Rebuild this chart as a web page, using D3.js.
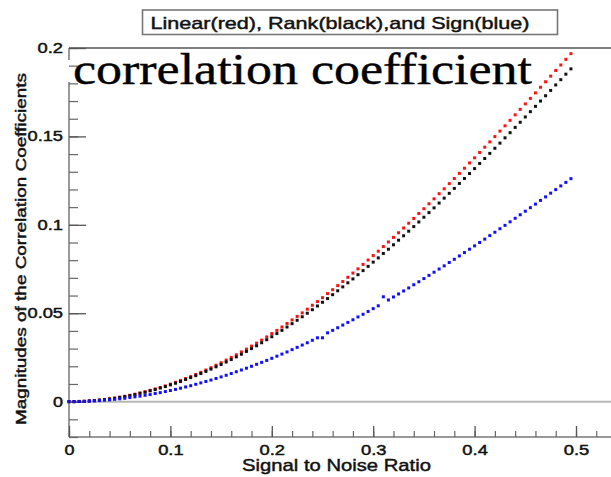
<!DOCTYPE html>
<html>
<head>
<meta charset="utf-8">
<script src="https://cdn.jsdelivr.net/npm/d3@7"></script>
<style>
  html, body { margin: 0; padding: 0; background: #fff; }
  svg { display: block; }
  .sans { font-family: "Liberation Sans", Arial, Helvetica, sans-serif; fill: #111; stroke: #111; stroke-width: 0.45px; }
</style>
</head>
<body>
<svg id="chart" width="611" height="477"></svg>
<script>
const titleText = "Linear(red), Rank(black),and Sign(blue)";
const overlayText = "correlation coefficient";
const xLabel = "Signal to Noise Ratio";
const yLabel = "Magnitudes of the Correlation Coefficients";

const xMajorTicks = [0, 0.1, 0.2, 0.3, 0.4, 0.5];
const xTickLabels = ["0", "0.1", "0.2", "0.3", "0.4", "0.5"];
const yMajorTicks = [0, 0.05, 0.1, 0.15, 0.2];
const yTickLabels = ["0", "0.05", "0.1", "0.15", "0.2"];

const snr = [
  0, 0.005, 0.01, 0.015, 0.02, 0.025, 0.03, 0.035, 0.04, 0.045,
  0.05, 0.055, 0.06, 0.065, 0.07, 0.075, 0.08, 0.085, 0.09, 0.095,
  0.1, 0.105, 0.11, 0.115, 0.12, 0.125, 0.13, 0.135, 0.14, 0.145,
  0.15, 0.155, 0.16, 0.165, 0.17, 0.175, 0.18, 0.185, 0.19, 0.195,
  0.2, 0.205, 0.21, 0.215, 0.22, 0.225, 0.23, 0.235, 0.24, 0.245,
  0.25, 0.255, 0.26, 0.265, 0.27, 0.275, 0.28, 0.285, 0.29, 0.295,
  0.3, 0.305, 0.31, 0.315, 0.32, 0.325, 0.33, 0.335, 0.34, 0.345,
  0.35, 0.355, 0.36, 0.365, 0.37, 0.375, 0.38, 0.385, 0.39, 0.395,
  0.4, 0.405, 0.41, 0.415, 0.42, 0.425, 0.43, 0.435, 0.44, 0.445,
  0.45, 0.455, 0.46, 0.465, 0.47, 0.475, 0.48, 0.485, 0.49, 0.495
];

const linearRed = [
  0, 0, 0.0001, 0.0002, 0.0004, 0.0006, 0.0009, 0.0012, 0.0016, 0.0020,
  0.0025, 0.0030, 0.0036, 0.0042, 0.0049, 0.0056, 0.0064, 0.0072, 0.0080, 0.0089,
  0.0099, 0.0109, 0.0120, 0.0131, 0.0142, 0.0154, 0.0166, 0.0179, 0.0192, 0.0206,
  0.0220, 0.0235, 0.0250, 0.0265, 0.0281, 0.0297, 0.0314, 0.0331, 0.0348, 0.0366,
  0.0385, 0.0403, 0.0422, 0.0442, 0.0462, 0.0482, 0.0502, 0.0523, 0.0545, 0.0566,
  0.0588, 0.0611, 0.0633, 0.0656, 0.0679, 0.0703, 0.0727, 0.0751, 0.0776, 0.0801,
  0.0826, 0.0851, 0.0877, 0.0903, 0.0929, 0.0955, 0.0982, 0.1009, 0.1036, 0.1064,
  0.1091, 0.1119, 0.1147, 0.1176, 0.1204, 0.1233, 0.1262, 0.1291, 0.1320, 0.1350,
  0.1379, 0.1409, 0.1439, 0.1469, 0.1499, 0.1530, 0.1560, 0.1591, 0.1622, 0.1653,
  0.1684, 0.1715, 0.1746, 0.1778, 0.1809, 0.1841, 0.1873, 0.1904, 0.1936, 0.1968
];

const rankBlack = [
  0, 0, 0.0001, 0.0002, 0.0004, 0.0006, 0.0009, 0.0012, 0.0015, 0.0019,
  0.0024, 0.0029, 0.0034, 0.0040, 0.0047, 0.0053, 0.0061, 0.0068, 0.0077, 0.0085,
  0.0095, 0.0104, 0.0114, 0.0125, 0.0136, 0.0147, 0.0159, 0.0171, 0.0184, 0.0197,
  0.0210, 0.0224, 0.0238, 0.0253, 0.0268, 0.0284, 0.0300, 0.0316, 0.0333, 0.0350,
  0.0367, 0.0385, 0.0403, 0.0422, 0.0441, 0.0460, 0.0480, 0.0500, 0.0520, 0.0541,
  0.0562, 0.0583, 0.0605, 0.0627, 0.0649, 0.0672, 0.0694, 0.0718, 0.0741, 0.0765,
  0.0789, 0.0813, 0.0838, 0.0862, 0.0887, 0.0913, 0.0938, 0.0964, 0.0990, 0.1016,
  0.1043, 0.1069, 0.1096, 0.1123, 0.1151, 0.1178, 0.1206, 0.1234, 0.1262, 0.1290,
  0.1318, 0.1347, 0.1375, 0.1404, 0.1433, 0.1462, 0.1492, 0.1521, 0.1551, 0.1580,
  0.1610, 0.1640, 0.1670, 0.1700, 0.1730, 0.1760, 0.1791, 0.1821, 0.1852, 0.1882
];

const signBlue = [
  0, 0, 0.0001, 0.0001, 0.0003, 0.0004, 0.0006, 0.0008, 0.0010, 0.0013,
  0.0016, 0.0019, 0.0023, 0.0027, 0.0031, 0.0036, 0.0040, 0.0046, 0.0051, 0.0057,
  0.0063, 0.0069, 0.0076, 0.0083, 0.0090, 0.0098, 0.0106, 0.0114, 0.0122, 0.0131,
  0.0140, 0.0149, 0.0159, 0.0169, 0.0179, 0.0189, 0.0200, 0.0211, 0.0222, 0.0233,
  0.0245, 0.0257, 0.0269, 0.0281, 0.0294, 0.0307, 0.0320, 0.0333, 0.0347, 0.0361,
  0.0361, 0.0389, 0.0403, 0.0418, 0.0433, 0.0448, 0.0463, 0.0479, 0.0494, 0.0510,
  0.0526, 0.0542, 0.0593, 0.0575, 0.0592, 0.0609, 0.0626, 0.0643, 0.0661, 0.0678,
  0.0696, 0.0714, 0.0732, 0.0750, 0.0768, 0.0787, 0.0805, 0.0824, 0.0843, 0.0862,
  0.0881, 0.0900, 0.0919, 0.0939, 0.0958, 0.0978, 0.0997, 0.1017, 0.1037, 0.1057,
  0.1077, 0.1097, 0.1117, 0.1138, 0.1158, 0.1179, 0.1199, 0.1220, 0.1240, 0.1261
];

const seriesList = [
  { name: "Linear", values: linearRed, color: "#ff1010" },
  { name: "Rank", values: rankBlack, color: "#111111" },
  { name: "Sign", values: signBlue, color: "#1010ff" }
];

const svg = d3.select("#chart");

const plotLeft = 69, plotTop = 48, plotBottom = 437;
const x = d3.scaleLinear().domain([0, 0.6]).range([plotLeft, plotLeft + 1014 * 0.6]);
const y = d3.scaleLinear().domain([-0.02, 0.2]).range([plotBottom, plotTop]);

// label widths in the picture look stretched sideways
function labelWidth(s) {
  const digits = s.replace(/[^0-9]/g, "").length;
  const dots = s.length - digits;
  return digits * 10 + dots * 5.5;
}

// zero reference line
svg.append("line")
  .attr("x1", plotLeft).attr("x2", 611)
  .attr("y1", y(0)).attr("y2", y(0))
  .attr("stroke", "#b8b8b8")
  .attr("stroke-width", 2);

// frame: top border, left and bottom axis lines
svg.append("line")
  .attr("x1", plotLeft).attr("x2", 611)
  .attr("y1", plotTop).attr("y2", plotTop)
  .attr("stroke", "#555")
  .attr("stroke-width", 1.5);

svg.append("line")
  .attr("x1", plotLeft).attr("x2", plotLeft)
  .attr("y1", plotTop).attr("y2", plotBottom)
  .attr("stroke", "#999")
  .attr("stroke-width", 2);

svg.append("line")
  .attr("x1", plotLeft).attr("x2", 611)
  .attr("y1", plotBottom).attr("y2", plotBottom)
  .attr("stroke", "#999")
  .attr("stroke-width", 2);

// white patch from the pasted text box over the axis
svg.append("rect")
  .attr("x", plotLeft - 2).attr("y", 60)
  .attr("width", 4).attr("height", 22)
  .attr("fill", "#fff");

// minor ticks
const xMinor = d3.range(0, 0.61, 0.02);
const yMinor = d3.range(-0.02, 0.201, 0.01);

svg.append("g")
  .attr("transform", `translate(0,${plotBottom})`)
  .call(d3.axisBottom(x).tickValues(xMinor).tickSizeInner(-6).tickSizeOuter(0).tickFormat(""))
  .call(g => g.select(".domain").remove())
  .call(g => g.selectAll(".tick line").attr("stroke", "#666").attr("stroke-width", 1.2));

svg.append("g")
  .attr("transform", `translate(${plotLeft},0)`)
  .call(d3.axisLeft(y).tickValues(yMinor).tickSizeInner(-9).tickSizeOuter(0).tickFormat(""))
  .call(g => g.select(".domain").remove())
  .call(g => g.selectAll(".tick line").attr("stroke", "#666").attr("stroke-width", 1.2));

// major ticks with labels
svg.append("g")
  .attr("transform", `translate(0,${plotBottom})`)
  .call(d3.axisBottom(x).tickValues(xMajorTicks).tickSizeInner(-11).tickSizeOuter(0)
    .tickPadding(8).tickFormat((d, i) => xTickLabels[i]))
  .call(g => g.select(".domain").remove())
  .call(g => g.selectAll(".tick line").attr("stroke", "#555").attr("stroke-width", 1.3))
  .call(g => g.selectAll(".tick text")
    .attr("class", "sans")
    .style("font-size", "14px")
    .attr("fill", "#111")
    .attr("textLength", (d, i) => labelWidth(xTickLabels[i]))
    .attr("lengthAdjust", "spacingAndGlyphs"));

svg.append("g")
  .attr("transform", `translate(${plotLeft},0)`)
  .call(d3.axisLeft(y).tickValues(yMajorTicks).tickSizeInner(-17).tickSizeOuter(0)
    .tickPadding(6).tickFormat((d, i) => yTickLabels[i]))
  .call(g => g.select(".domain").remove())
  .call(g => g.selectAll(".tick line").attr("stroke", "#555").attr("stroke-width", 1.3))
  .call(g => g.selectAll(".tick text")
    .attr("class", "sans")
    .style("font-size", "14px")
    .attr("fill", "#111")
    .attr("textLength", (d, i) => labelWidth(yTickLabels[i]))
    .attr("lengthAdjust", "spacingAndGlyphs"));

// axis titles
svg.append("text")
  .attr("class", "sans")
  .attr("x", 242).attr("y", 470.5)
  .style("font-size", "17px")
  .attr("textLength", 189)
  .attr("lengthAdjust", "spacingAndGlyphs")
  .text(xLabel);

svg.append("text")
  .attr("class", "sans")
  .attr("transform", "translate(25.5,425) rotate(-90)")
  .style("font-size", "14px")
  .attr("textLength", 352)
  .attr("lengthAdjust", "spacingAndGlyphs")
  .text(yLabel);

// title box
svg.append("rect")
  .attr("x", 142.5).attr("y", 10)
  .attr("width", 415).attr("height", 24.5)
  .attr("fill", "#fff")
  .attr("stroke", "#777")
  .attr("stroke-width", 1.6);

svg.append("text")
  .attr("class", "sans")
  .attr("x", 150.5).attr("y", 29.3)
  .style("font-size", "17px")
  .attr("textLength", 379)
  .attr("lengthAdjust", "spacingAndGlyphs")
  .text(titleText);

// large overlaid label
svg.append("text")
  .attr("x", 73).attr("y", 84)
  .style("font-family", "'Palatino Linotype', 'Book Antiqua', Palatino, 'URW Palladio L', 'Liberation Serif', 'DejaVu Serif', serif")
  .style("font-size", "44px")
  .attr("fill", "#000")
  .attr("stroke", "#000")
  .attr("stroke-width", 0.4)
  .attr("textLength", 459)
  .attr("lengthAdjust", "spacingAndGlyphs")
  .text(overlayText);

// dots
seriesList.forEach(s => {
  svg.append("g")
    .attr("class", "series-" + s.name)
    .selectAll("rect")
    .data(s.values)
    .join("rect")
    .attr("x", (d, i) => x(snr[i]) - 1.5)
    .attr("y", d => y(d) - 1.5)
    .attr("width", 3)
    .attr("height", 3)
    .attr("fill", s.color);
});
</script>
</body>
</html>
